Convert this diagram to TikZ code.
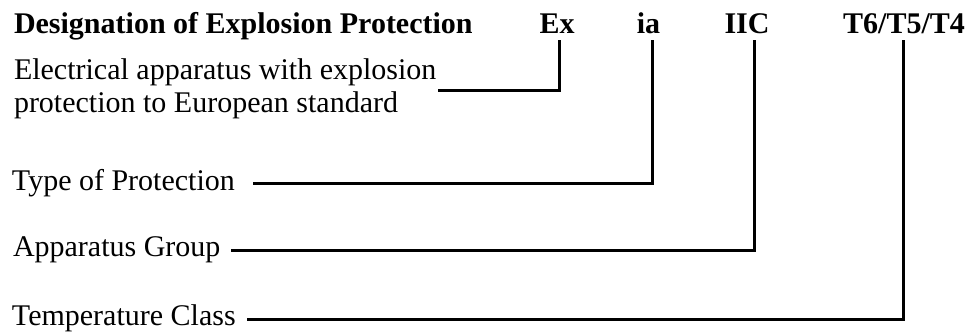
\documentclass[tikz,border=0pt]{standalone}
\usepackage{fontspec}
\setmainfont{Liberation Serif}
\usetikzlibrary{calc}
\tikzset{
  lbl/.style={inner sep=0pt, outer sep=0pt, font=\fontsize{30}{33}\selectfont},
  hdr/.style={inner sep=0pt, outer sep=0pt, font=\fontsize{30}{33}\selectfont\bfseries},
  conn/.style={line width=3pt, line join=miter, line cap=rect}
}
\begin{document}
\begin{tikzpicture}[x=1pt,y=-1pt]
\useasboundingbox (0,0) rectangle (977,333);
% header row
\node[hdr, anchor=base west] (title) at (14,33) {Designation of Explosion Protection};
\node[hdr, anchor=base] (ex) at (557,33) {Ex};
\node[hdr, anchor=base] (ia) at (648.5,33) {ia};
\node[hdr, anchor=base] (iic) at (747,33) {IIC};
\node[hdr, anchor=base] (tcl) at (904,33) {T6/T5/T4};
% tops of the connectors
\coordinate (tEx) at (559,41);
\coordinate (tIa) at (652,41);
\coordinate (tIic) at (754,41);
\coordinate (tTcl) at (903,41);
% labels
\node[lbl, anchor=base west] (el1) at (14,79) {Electrical apparatus with explosion};
\node[lbl, anchor=base west] (el2) at (14,112) {protection to European standard};
\node[lbl, anchor=base west] (tp) at (12,190) {Type of Protection};
\node[lbl, anchor=base west] (ag) at (13,256) {Apparatus Group};
\node[lbl, anchor=base west] (tc) at (12,325) {Temperature Class};
% connectors
\draw[conn] ($(el1.base east)+(3,11)$) -| (tEx);
\draw[conn] ($(tp.base east)+(20,-6.5)$) -| (tIa);
\draw[conn] ($(ag.base east)+(12,-6)$) -| (tIic);
\draw[conn] ($(tc.base east)+(13,-6)$) -| (tTcl);
\end{tikzpicture}
\end{document}
